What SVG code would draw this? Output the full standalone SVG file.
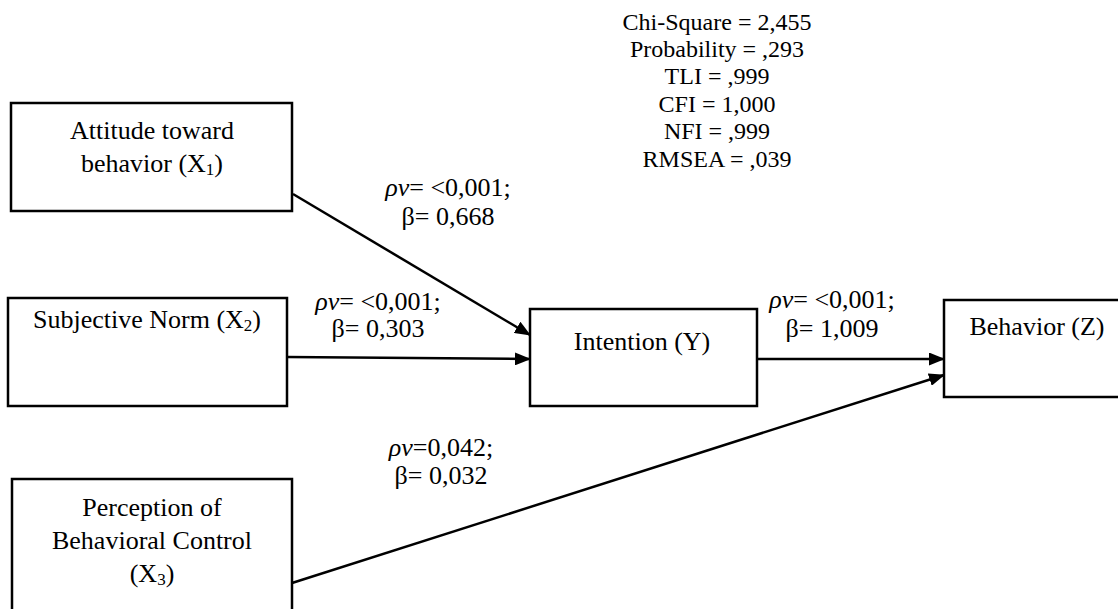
<svg xmlns="http://www.w3.org/2000/svg" width="1118" height="609" viewBox="0 0 1118 609">
<style>
text{font-family:"Liberation Serif","Times New Roman",serif;fill:#000;text-anchor:middle;}
.n{font-size:26px;}
.s{font-size:24px;}
.e{font-size:26px;}
.box{fill:#fff;stroke:#000;stroke-width:2.5;}
.con{stroke:#000;stroke-width:2.5;fill:none;marker-end:url(#ah);}
</style>
<defs>
<marker id="ah" markerWidth="16" markerHeight="13" refX="15" refY="6.5" orient="auto" markerUnits="userSpaceOnUse">
<path d="M0,0 L16,6.5 L0,13 z" fill="#000"/>
</marker>
</defs>
<rect width="1118" height="609" fill="#fff"/>
<g id="stats" class="s">
<text x="717" y="30" class="s">Chi-Square = 2,455</text>
<text x="717" y="57" class="s">Probability = ,293</text>
<text x="717" y="84" class="s">TLI = ,999</text>
<text x="717" y="112" class="s">CFI = 1,000</text>
<text x="717" y="139" class="s">NFI = ,999</text>
<text x="717" y="167" class="s">RMSEA = ,039</text>
</g>
<g id="connectors">
<line class="con" x1="293" y1="194" x2="530" y2="335"/>
<line class="con" x1="287" y1="357" x2="530" y2="359"/>
<line class="con" x1="757" y1="359" x2="944" y2="359"/>
<line class="con" x1="292" y1="583" x2="944" y2="375"/>
<text class="e" x="448" y="196"><tspan font-style="italic">ρv</tspan>= &lt;0,001;</text>
<text class="e" x="448" y="225">β= 0,668</text>
<text class="e" x="378" y="310"><tspan font-style="italic">ρv</tspan>= &lt;0,001;</text>
<text class="e" x="378" y="337">β= 0,303</text>
<text class="e" x="832" y="308"><tspan font-style="italic">ρv</tspan>= &lt;0,001;</text>
<text class="e" x="832" y="337">β= 1,009</text>
<text class="e" x="441" y="456"><tspan font-style="italic">ρv</tspan>=0,042;</text>
<text class="e" x="441" y="484">β= 0,032</text>
</g>
<g id="x1">
<rect class="box" x="11" y="103" width="281" height="108"/>
<text class="n" x="152" y="139">Attitude toward</text>
<text class="n" x="152" y="172">behavior (X<tspan font-size="17" dy="3">1</tspan><tspan dy="-3">)</tspan></text>
</g>
<g id="x2">
<rect class="box" x="8" y="298" width="279" height="108"/>
<text class="n" x="147" y="328">Subjective Norm (X<tspan font-size="17" dy="3">2</tspan><tspan dy="-3">)</tspan></text>
</g>
<g id="y">
<rect class="box" x="530" y="309" width="227" height="97"/>
<text class="n" x="642" y="350">Intention (Y)</text>
</g>
<g id="z">
<rect class="box" x="944" y="300" width="190" height="97"/>
<text class="n" x="1037" y="335">Behavior (Z)</text>
</g>
<g id="x3">
<rect class="box" x="12" y="479" width="280" height="150"/>
<text class="n" x="152" y="516">Perception of</text>
<text class="n" x="152" y="549">Behavioral Control</text>
<text class="n" x="152" y="582">(X<tspan font-size="17" dy="3">3</tspan><tspan dy="-3">)</tspan></text>
</g>
</svg>
